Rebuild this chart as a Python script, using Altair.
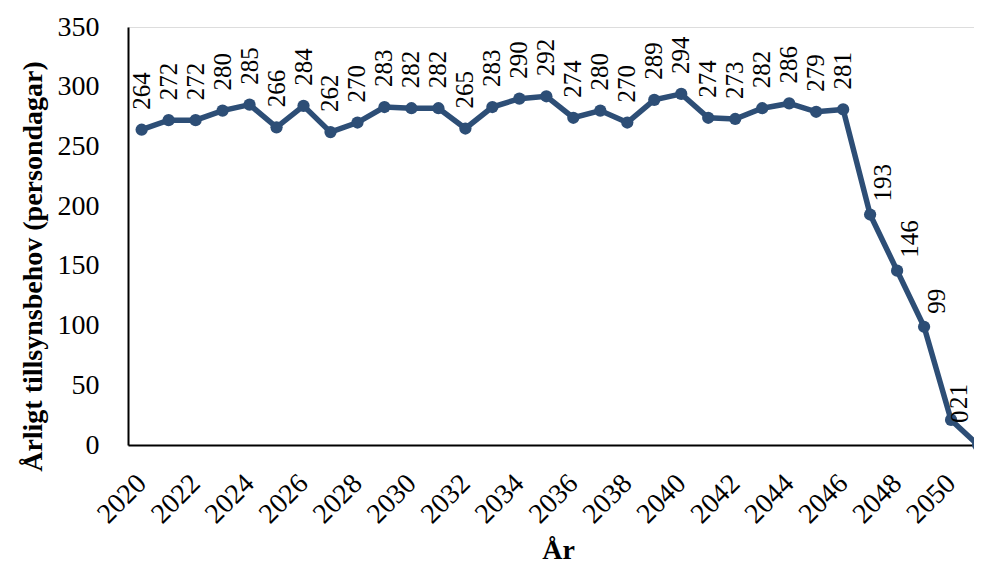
import altair as alt
import pandas as pd

years = list(range(2020, 2052))
values = [264, 272, 272, 280, 285, 266, 284, 262, 270, 283, 282, 282, 265, 283, 290,
          292, 274, 280, 270, 289, 294, 274, 273, 282, 286, 279, 281, 193, 146, 99, 21, 0]
x_ticks = list(range(2020, 2051, 2))
y_ticks = [0, 50, 100, 150, 200, 250, 300, 350]

df = pd.DataFrame({"year": years, "value": values})

COLOR = "#2D4E76"
FONT = "Liberation Serif"

x_enc = alt.X(
    "year:Q",
    scale=alt.Scale(domain=[2019.495, 2050.85], nice=False, zero=False),
    axis=alt.Axis(
        title="År", values=x_ticks, format="d", labelAngle=-45, labelAlign="right",
        labelBaseline="middle", labelPadding=34, ticks=False, tickSize=0,
        labelFlush=False, labelOverlap=False, grid=False,
        domainColor="black", domainWidth=2,
        labelFont=FONT, labelFontSize=28, labelColor="black",
        titleFont=FONT, titleFontSize=28, titleFontWeight="bold", titleColor="black",
        titleX=430, titleY=105, titleBaseline="middle", titleAlign="center",
    ),
)
y_enc = alt.Y(
    "value:Q",
    scale=alt.Scale(domain=[0, 350], nice=False),
    axis=alt.Axis(
        title="Årligt tillsynsbehov (persondagar)", values=y_ticks, ticks=False, tickSize=0,
        labelPadding=29, grid=False, domainColor="black", domainWidth=2,
        labelFont=FONT, labelFontSize=28, labelColor="black", labelFlush=False,
        titleFont=FONT, titleFontSize=28, titleFontWeight="bold", titleColor="black",
        titleX=-95, titleY=239, titleAngle=270, titleAlign="center", titleBaseline="middle",
    ),
)

base = alt.Chart(df).encode(x=x_enc, y=y_enc)

line = base.mark_line(color=COLOR, strokeWidth=5.5, clip=False)
points = base.mark_circle(color=COLOR, size=150, opacity=1, clip=False)

lab_common = dict(angle=270, align="left", baseline="middle", font=FONT,
                  fontSize=25, color="black")
txt = alt.Text("value:Q", format="d")
labels_flat = base.transform_filter("datum.year <= 2046").mark_text(
    dx=20, dy=0, **lab_common).encode(text=txt)
labels_drop = base.transform_filter("datum.year > 2046 && datum.year < 2050").mark_text(
    dx=13, dy=13, **lab_common).encode(text=txt)
labels_2050 = base.transform_filter("datum.year == 2050").mark_text(
    dx=11, dy=8, **lab_common).encode(text=txt)
labels_last = base.transform_filter("datum.year == 2051").mark_text(
    dx=22, dy=-18, **lab_common).encode(text=txt)

chart = alt.layer(line, points, labels_flat, labels_drop, labels_2050, labels_last).properties(
    width=846, height=418,
    autosize=alt.AutoSizeParams(type="none"),
    padding={"left": 120, "top": 19, "right": 0, "bottom": 118},
).configure_view(stroke=None).configure(background="white")

chart.save("out.html", embed_options={"renderer": "svg", "actions": False})
